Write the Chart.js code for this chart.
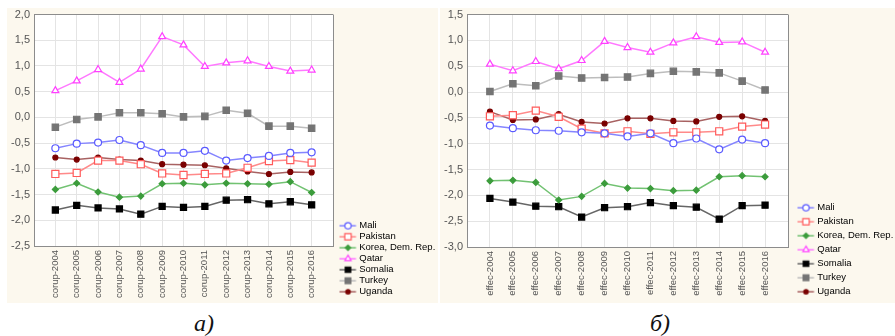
<!DOCTYPE html>
<html>
<head>
<meta charset="utf-8">
<script src="https://cdn.jsdelivr.net/npm/chart.js@4.4.1/dist/chart.umd.min.js"></script>
<style>
  body { margin: 0; background: #fff; }
  #wrap { position: relative; width: 895px; height: 336px; overflow: hidden; }
  .panel { position: absolute; top: 8px; height: 295px; background: #fcf8ee; }
  #left { left: 7px; width: 431px; }
  #right { left: 440px; width: 455px; }
  .cap { position: absolute; font: italic 24px/24px "Liberation Serif", "Times New Roman", serif; color: #111; }
</style>
</head>
<body>
<div id="wrap">
  <div class="panel" id="left"><canvas id="corupChart" width="431" height="295"></canvas></div>
  <div class="panel" id="right"><canvas id="effecChart" width="455" height="295"></canvas></div>
  <div class="cap" style="left:194px; top:311px">a)</div>
  <div class="cap" style="left:650px; top:311px">б)</div>
</div>
<script>
const years = [2004, 2005, 2006, 2007, 2008, 2009, 2010, 2011, 2012, 2013, 2014, 2015, 2016];
const corupLabels = years.map(y => "corup-" + y);
const effecLabels = years.map(y => "effec-" + y);
const countries = ["Mali", "Pakistan", "Korea, Dem. Rep.", "Qatar", "Somalia", "Turkey", "Uganda"];

// control of corruption
const corupMali     = [-0.60, -0.51, -0.49, -0.44, -0.54, -0.69, -0.69, -0.65, -0.84, -0.79, -0.75, -0.69, -0.68];
const corupPakistan = [-1.10, -1.08, -0.84, -0.84, -0.91, -1.09, -1.12, -1.10, -1.09, -0.98, -0.85, -0.83, -0.88];
const corupKorea    = [-1.40, -1.28, -1.45, -1.55, -1.53, -1.29, -1.28, -1.31, -1.28, -1.29, -1.30, -1.25, -1.46];
const corupQatar    = [0.52, 0.71, 0.93, 0.68, 0.94, 1.57, 1.41, 0.99, 1.06, 1.10, 0.99, 0.90, 0.92];
const corupSomalia  = [-1.80, -1.71, -1.76, -1.78, -1.88, -1.73, -1.75, -1.73, -1.61, -1.60, -1.68, -1.64, -1.70];
const corupTurkey   = [-0.19, -0.04, 0.01, 0.09, 0.09, 0.07, 0.01, 0.02, 0.14, 0.08, -0.17, -0.17, -0.21];
const corupUganda   = [-0.78, -0.82, -0.78, -0.82, -0.84, -0.91, -0.92, -0.93, -0.99, -1.05, -1.10, -1.06, -1.07];

// government effectiveness
const effecMali     = [-0.65, -0.70, -0.74, -0.75, -0.78, -0.80, -0.86, -0.80, -0.99, -0.90, -1.11, -0.92, -0.99];
const effecPakistan = [-0.47, -0.45, -0.36, -0.48, -0.71, -0.80, -0.76, -0.81, -0.78, -0.78, -0.76, -0.67, -0.63];
const effecKorea    = [-1.72, -1.71, -1.75, -2.09, -2.02, -1.77, -1.86, -1.87, -1.91, -1.90, -1.64, -1.62, -1.64];
const effecQatar    = [0.54, 0.41, 0.59, 0.45, 0.61, 0.98, 0.86, 0.77, 0.95, 1.07, 0.96, 0.97, 0.77];
const effecSomalia  = [-2.06, -2.13, -2.21, -2.22, -2.42, -2.24, -2.22, -2.14, -2.20, -2.23, -2.46, -2.20, -2.19];
const effecTurkey   = [0.01, 0.16, 0.12, 0.31, 0.27, 0.28, 0.29, 0.36, 0.40, 0.39, 0.37, 0.21, 0.04];
const effecUganda   = [-0.38, -0.54, -0.53, -0.43, -0.58, -0.61, -0.51, -0.51, -0.56, -0.57, -0.48, -0.47, -0.56];

// line + marker look per country, same order as countries
const looks = [
  { line: "#8585ff", point: "#5a5aff", fill: "#ffffff", style: "circle", r: 3.5 },
  { line: "#ff8a8a", point: "#ff5a5a", fill: "#ffffff", style: "rect", r: 5 },
  { line: "#72c272", point: "#3c9c3c", fill: "#3c9c3c", style: "rectRot", r: 3 },
  { line: "#ff78ff", point: "#ff40ff", fill: "#ffffff", style: "triangle", r: 4 },
  { line: "#666666", point: "#000000", fill: "#000000", style: "rect", r: 4.3 },
  { line: "#bdbdbd", point: "#747474", fill: "#747474", style: "rect", r: 4.5 },
  { line: "#a86262", point: "#7a0000", fill: "#7a0000", style: "circle", r: 2.5 }
];

function buildDatasets(series) {
  return series.map((values, k) => ({
    label: countries[k],
    data: values.map((v, i) => ({ x: i, y: v })),
    borderColor: looks[k].line,
    borderWidth: 1.5,
    pointStyle: looks[k].style,
    pointRadius: looks[k].r,
    pointBorderColor: looks[k].point,
    pointBackgroundColor: looks[k].fill,
    pointBorderWidth: 1.2
  }));
}

// little "-o-" picture for the legend
function legendKey(k) {
  const c = document.createElement("canvas");
  c.width = 32; c.height = 12;
  const ctx = c.getContext("2d");
  ctx.strokeStyle = looks[k].line;
  ctx.lineWidth = 1.5;
  ctx.beginPath(); ctx.moveTo(11, 6); ctx.lineTo(27.5, 6); ctx.stroke();
  ctx.strokeStyle = looks[k].point;
  ctx.fillStyle = looks[k].fill;
  ctx.lineWidth = 1.2;
  Chart.helpers.drawPoint(ctx, { pointStyle: looks[k].style, radius: looks[k].r * 0.9, rotation: 0, borderWidth: 1.2 }, 19.5, 6);
  return c;
}
const keys = countries.map((_, k) => legendKey(k));

const plotBackground = {
  id: "plotBackground",
  beforeDraw(chart) {
    const { ctx, chartArea: a } = chart;
    ctx.save();
    ctx.fillStyle = "#ffffff";
    ctx.fillRect(a.left, a.top, a.width, a.height);
    ctx.restore();
  }
};

const near = (a, b) => Math.abs(a - b) < 1e-6;

function makeChart(id, labels, series, yMin, yMax, opts) {
  return new Chart(document.getElementById(id), {
    type: "line",
    data: { datasets: buildDatasets(series) },
    options: {
      responsive: false,
      animation: false,
      events: [],
      layout: { padding: { top: 0, right: 0, bottom: opts.padBottom, left: 0 } },
      scales: {
        x: {
          type: "linear",
          min: -1,
          max: labels.length,
          afterFit: s => { s.height = opts.xHeight; },
          border: { color: "#8c8c8c" },
          grid: {
            drawTicks: false,
            color: c => (near(c.tick.value, -1) || near(c.tick.value, labels.length)) ? "#8c8c8c" : "#e4e4e4"
          },
          ticks: {
            stepSize: 1,
            autoSkip: false,
            minRotation: 90,
            maxRotation: 90,
            padding: 4,
            color: "#555",
            font: { family: "Liberation Sans", size: 9.5 },
            callback: v => (Number.isInteger(v) && labels[v]) ? labels[v] : ""
          }
        },
        y: {
          min: yMin,
          max: yMax,
          afterFit: s => { s.width = 27; s.paddingTop = 6.5; },
          border: { color: "#8c8c8c" },
          grid: {
            drawTicks: false,
            color: c => (near(c.tick.value, yMin) || near(c.tick.value, yMax)) ? "#8c8c8c" : "#e4e4e4"
          },
          ticks: {
            stepSize: 0.5,
            padding: 4,
            color: "#555",
            font: { family: "Liberation Sans", size: 11 },
            callback: v => v.toFixed(1).replace(".", ",")
          }
        }
      },
      plugins: {
        tooltip: { enabled: false },
        legend: {
          position: "right",
          align: "end",
          maxWidth: opts.legendWidth,
          labels: {
            usePointStyle: true,
            pointStyleWidth: 20,
            padding: opts.legendPad,
            color: "#555",
            font: { family: "Liberation Sans", size: 9.5 },
            generateLabels: chart => chart.data.datasets.map((ds, k) => ({
              text: ds.label,
              pointStyle: keys[k],
              datasetIndex: k,
              hidden: false,
              lineWidth: 0,
              strokeStyle: "transparent",
              fillStyle: "transparent"
            }))
          }
        }
      }
    },
    plugins: [plotBackground]
  });
}

makeChart("corupChart", corupLabels,
  [corupMali, corupPakistan, corupKorea, corupQatar, corupSomalia, corupTurkey, corupUganda],
  -2.5, 2.0, { padBottom: 5, xHeight: 52, legendWidth: 105, legendPad: 1.5 });

makeChart("effecChart", effecLabels,
  [effecMali, effecPakistan, effecKorea, effecQatar, effecSomalia, effecTurkey, effecUganda],
  -3.0, 1.5, { padBottom: 2, xHeight: 54, legendWidth: 107, legendPad: 4.5 });
</script>
</body>
</html>
